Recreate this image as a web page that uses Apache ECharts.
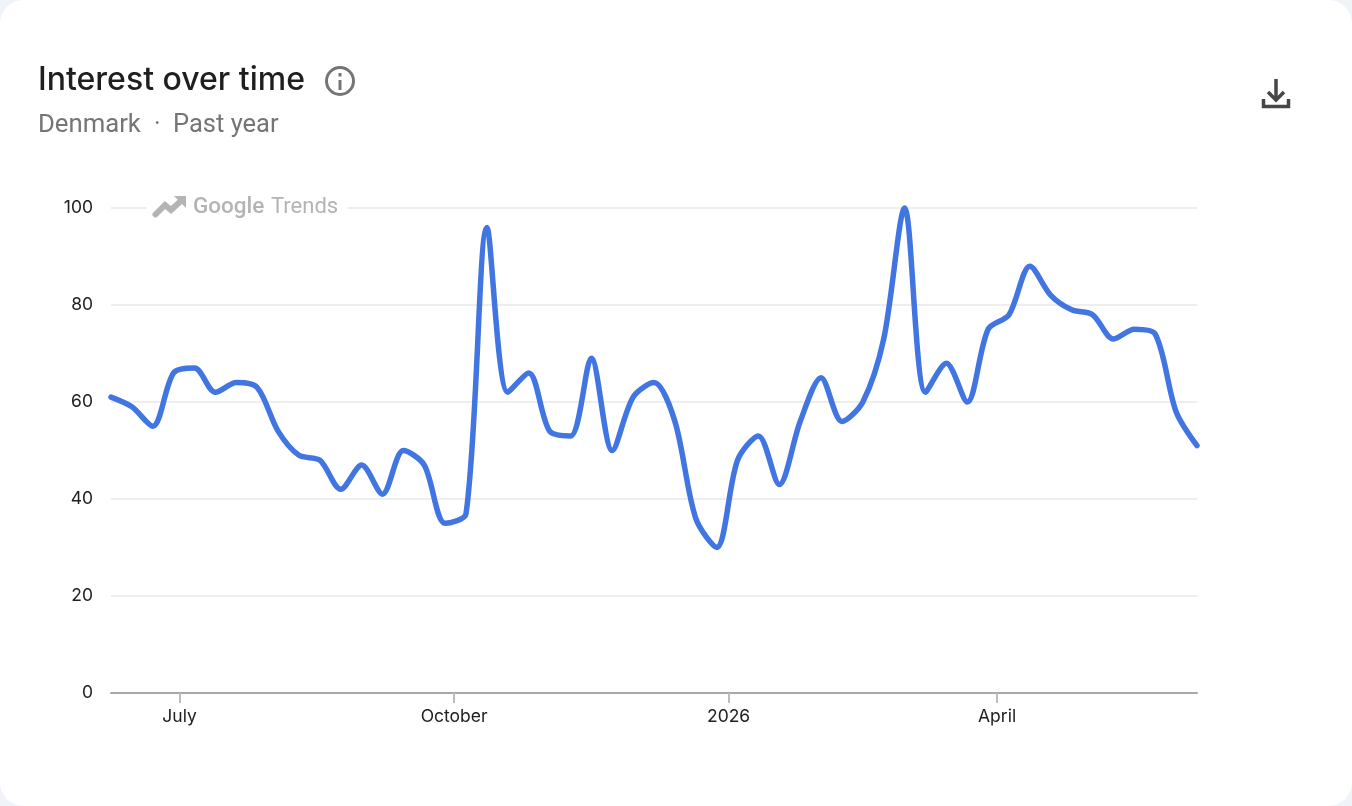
<!DOCTYPE html>
<html><head><meta charset="utf-8">
<style>
html,body{margin:0;padding:0;width:1352px;height:806px;background:#f0f4f9;overflow:hidden}
#c{width:1352px;height:806px;background:#fff;border-radius:24px;overflow:hidden}
</style>
<script src="https://cdn.jsdelivr.net/npm/echarts@6/dist/echarts.min.js"></script>
</head><body><div id="c"></div>
<script>
const startDate = '2025-06-08';
const values = [61,59,55,66,67,62,64,63,54,49,48,42,47,41,50,47,35,37,96,62,66,54,53,69,50,61,64,56,36,30,48,53,43,56,65,56,60,73,100,62,68,60,75,78,88,82,79,78,73,75,74,58,51];
const tickDates = ['2025-07-01','2025-10-01','2026-01-01','2026-04-01'];
const tickLabels = ['July','October','2026','April'];
const title = 'Interest over time';
const subtitle = ['Denmark','·','Past year'];
const watermark = ['Google','Trends'];

const WEEK = 7*864e5;
const t0 = Date.parse(startDate);
const points = values.map((v,i)=>[t0+i*WEEK, v]);
const tickTimes = tickDates.map(d=>Date.parse(d));
const FONT = 'Inter, Roboto, sans-serif';
const chart = echarts.init(document.getElementById('c'));
chart.setOption({
  animation:false,
  backgroundColor:'transparent',
  grid:{left:111,right:155,top:208,bottom:113},
  xAxis:{type:'value',min:t0,max:t0+(values.length-1)*WEEK,
    axisLine:{lineStyle:{color:'#a8a8a8',width:2}},
    axisTick:{customValues:tickTimes,length:10,lineStyle:{color:'#bdbdbd',width:2}},
    axisLabel:{customValues:tickTimes,margin:14,fontSize:17.5,color:'#202124',fontFamily:FONT,padding:[1,0,0,0],
      formatter:v=>tickLabels[tickTimes.indexOf(v)]||''},
    splitLine:{show:false}},
  yAxis:{type:'value',min:0,max:100,interval:20,
    axisLine:{show:false},axisTick:{show:false},
    axisLabel:{margin:18,fontSize:17.5,color:'#202124',fontFamily:FONT,padding:[4,0,0,0]},
    splitLine:{lineStyle:{color:'#eeeeee',width:2}}},
  series:[{type:'line',data:points,smooth:0.3,showSymbol:false,clip:false,
    lineStyle:{color:'#4175e1',width:5.5,cap:'round',join:'round'}}],
  graphic:[
    {type:'text',left:38,top:64,style:{text:title,font:'500 32px Inter, sans-serif',fill:'#1f1f1f'}},
    {type:'text',left:38,top:113,style:{text:subtitle[0],font:'400 25.7px Roboto, sans-serif',fill:'#757575'}},
    {type:'text',left:154,top:113,style:{text:subtitle[1],font:'400 25px Roboto, sans-serif',fill:'#757575'}},
    {type:'text',left:173,top:113,style:{text:subtitle[2],font:'400 25.5px Roboto, sans-serif',fill:'#757575'}},
    {type:'circle',shape:{cx:340,cy:81,r:13.5},style:{fill:'none',stroke:'#757575',lineWidth:3}},
    {type:'rect',shape:{x:338.5,y:80,width:3,height:10},style:{fill:'#757575'}},
    {type:'rect',shape:{x:338.5,y:73,width:3,height:3.5},style:{fill:'#757575'}},
    {type:'polyline',shape:{points:[[1276,79],[1276,101]]},style:{stroke:'#444746',lineWidth:3.5,fill:'none'}},
    {type:'polyline',shape:{points:[[1268,92],[1276,100],[1284,92]]},style:{stroke:'#444746',lineWidth:3.5,fill:'none'}},
    {type:'polyline',shape:{points:[[1263.5,99],[1263.5,106.5],[1288.5,106.5],[1288.5,99]]},style:{stroke:'#444746',lineWidth:3.5,fill:'none'}},
    {type:'rect',z:10,shape:{x:147,y:205,width:201,height:6},style:{fill:'#fff'}},
    {type:'polyline',z:11,shape:{points:[[155.5,214.5],[165,205],[171,210],[182,200]]},style:{stroke:'#b4b4b4',lineWidth:6,fill:'none',lineCap:'round'}},
    {type:'polygon',z:11,shape:{points:[[174,196],[186,196],[186,208]]},style:{fill:'#b4b4b4'}},
    {type:'text',z:11,left:193,top:196,style:{text:watermark[0],font:'500 22.5px Roboto, sans-serif',fill:'#b4b4b4'}},
    {type:'text',z:11,left:271,top:196,style:{text:watermark[1],font:'400 22px Roboto, sans-serif',fill:'#b4b4b4'}}
  ]
});
</script></body></html>
